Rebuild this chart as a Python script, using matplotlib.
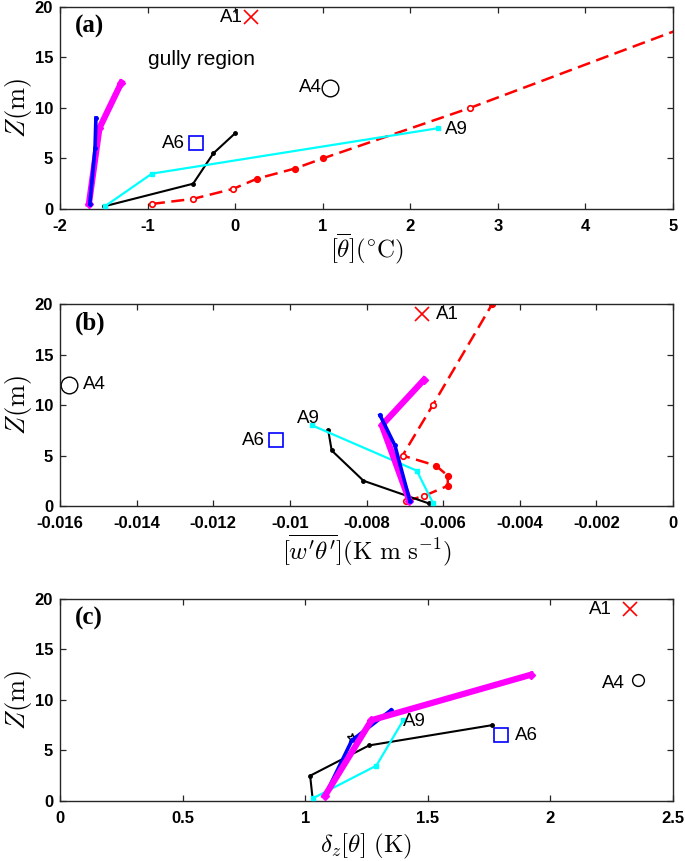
import matplotlib
matplotlib.use("Agg")
from matplotlib import pyplot as plt
import numpy as np

plt.rcParams["mathtext.fontset"] = "cm"
plt.rcParams["font.family"] = ["Liberation Sans", "DejaVu Sans"]

# heights (m) of each tower's levels
z_red = [0.5, 1, 2, 3, 4, 5, 10, 20]
z_black = [0.25, 2.5, 5.5, 7.5]
z_cyan = [0.25, 3.5, 8]
z_mag = [0.5, 8, 12.5]
z_blue = [0.5, 6, 9]

# (a) mean potential temperature
red_a = [-0.95, -0.48, -0.02, 0.25, 0.68, 1.0, 2.68, 5.75]
red_fill_a = [False, False, False, True, True, True, False, True]
black_a = [-1.5, -0.48, -0.25, 0.0]
cyan_a = [-1.49, -0.95, 2.32]
mag_a = [-1.67, -1.55, -1.30]
blue_a = [-1.66, -1.60, -1.59]

# (b) heat flux
red_b = [-0.00697, -0.00650, -0.00588, -0.00588, -0.00619, -0.00706, -0.00627, -0.00472]
red_fill_b = [False, False, True, True, True, False, False, True]
black_b = [-0.00637, -0.00808, -0.00891, -0.0090]
cyan_b = [-0.00626, -0.00669, -0.00943]
mag_b = [-0.00688, -0.00760, -0.00650]
blue_b = [-0.00687, -0.00726, -0.00765]

# (c) vertical temperature difference
black_c = [1.03, 1.02, 1.26, 1.76]
cyan_c = [1.03, 1.29, 1.40]
mag_c = [1.08, 1.27, 1.92]
blue_c = [1.08, 1.19, 1.35]
star_c = (1.19, 6.2)

# single-level sites: (x, z)
a1 = {"a": (0.18, 19), "b": (-0.00656, 19), "c": (2.325, 19)}
a4 = {"a": (1.08, 12), "b": (-0.01576, 12), "c": (2.355, 12)}
a6 = {"a": (-0.45, 6.5), "b": (-0.01037, 6.5), "c": (1.80, 6.5)}

xticks_a = [-2, -1, 0, 1, 2, 3, 4, 5]
xticks_b = [-0.016, -0.014, -0.012, -0.01, -0.008, -0.006, -0.004, -0.002, 0]
xlabels_b = ["-0.016", "-0.014", "-0.012", "-0.01", "-0.008", "-0.006", "-0.004", "-0.002", "0"]
xticks_c = [0, 0.5, 1, 1.5, 2, 2.5]
xlabels_c = ["0", "0.5", "1", "1.5", "2", "2.5"]
yticks = [0, 5, 10, 15, 20]

fig = plt.figure(figsize=(6.85, 8.61), dpi=100)
left, width, height = 0.0876, 0.895, 0.2346
ax_a = fig.add_axes([left, 0.7573, width, height])
ax_b = fig.add_axes([left, 0.4123, width, height])
ax_c = fig.add_axes([left, 0.0697, width, height])

afont = dict(fontsize=13.5, family=["Liberation Sans", "DejaVu Sans"])


def style(ax, xticks, xlabels, xlim, xlabel, label_y, tag):
    ax.set_xlim(*xlim)
    ax.set_ylim(0, 20)
    ax.set_xticks(xticks)
    ax.set_xticklabels(xlabels)
    ax.set_yticks(yticks)
    ax.tick_params(direction="in", top=True, right=True, length=4, width=0.9,
                   labelsize=12, color="#262626")
    ax.tick_params(axis="x", pad=7)
    ax.tick_params(axis="y", pad=5)
    for lab in ax.get_xticklabels() + ax.get_yticklabels():
        lab.set_fontweight("bold")
    for sp in ax.spines.values():
        sp.set_linewidth(1.0)
        sp.set_color("#262626")
    ax.set_ylabel(r"$Z(\mathrm{m})$", fontsize=19)
    ax.yaxis.set_label_coords(-0.042, 0.5)
    ax.set_xlabel(xlabel, fontsize=18, va="top")
    ax.xaxis.set_label_coords(0.5, label_y)
    ax.text(0.024, 0.905, tag, transform=ax.transAxes, fontsize=18,
            fontweight="bold", family="Liberation Serif", ha="left", va="center")


def red_profile(ax, x, fill):
    ax.plot(x, z_red, color="red", lw=1.8, dashes=(5.2, 2.6), zorder=2)
    for xi, zi, f in zip(x, z_red, fill):
        ax.plot(xi, zi, "o", ms=4, mec="red", mew=1.2,
                mfc="red" if f else "white", zorder=2.5)


def sites(ax, key, offs):
    x, z = a1[key]
    ax.plot(x, z, "x", color="red", ms=10, mew=1.2)
    ax.annotate("A1", (x, z), xytext=offs[0][:2], textcoords="offset points",
                ha=offs[0][2], va="center", **afont)
    x, z = a4[key]
    ax.plot(x, z, "o", mfc="none", mec="black", ms=offs[1][3], mew=1.0)
    ax.annotate("A4", (x, z), xytext=offs[1][:2], textcoords="offset points",
                ha=offs[1][2], va="center", **afont)
    x, z = a6[key]
    ax.plot(x, z, "s", mfc="none", mec="blue", ms=10, mew=1.2)
    ax.annotate("A6", (x, z), xytext=offs[2][:2], textcoords="offset points",
                ha=offs[2][2], va="center", **afont)


# ---- (a)
ax = ax_a
red_profile(ax, red_a, red_fill_a)
ax.plot(black_a, z_black, "-", color="black", lw=1.5, marker="o", ms=2.5, zorder=3)
ax.plot(cyan_a, z_cyan, "-", color="cyan", lw=1.6, marker="s", ms=3, zorder=3)
ax.plot(mag_a, z_mag, "-", color="magenta", lw=4.5, marker="D", ms=4, zorder=4)
ax.plot(blue_a, z_blue, "-", color="blue", lw=2.6, marker="o", ms=2.5, zorder=5)
sites(ax, "a", [(-6, 0, "right"), (-6, 0, "right", 12), (-7.5, 0, "right")])
ax.annotate("A9", (cyan_a[-1], z_cyan[-1]), xytext=(5, -1), textcoords="offset points",
            ha="left", va="center", **afont)
ax.text(-1.0, 14.8, "gully region", ha="left", va="center", fontsize=15)
style(ax, xticks_a, [str(t) for t in xticks_a], (-2, 5),
      r"$[\overline{\theta}](^{\circ}\mathrm{C})$", -0.115, "(a)")

# ---- (b)
ax = ax_b
red_profile(ax, red_b, red_fill_b)
ax.plot(black_b, z_black, "-", color="black", lw=1.5, marker="o", ms=2.5, zorder=3)
ax.plot(cyan_b, z_cyan, "-", color="cyan", lw=1.6, marker="s", ms=3, zorder=3)
ax.plot(mag_b, z_mag, "-", color="magenta", lw=4.5, marker="D", ms=4, zorder=4)
ax.plot(blue_b, z_blue, "-", color="blue", lw=2.6, marker="o", ms=2.5, zorder=5)
sites(ax, "b", [(10, 0, "left"), (10, 0, "left", 12), (-7.5, 0, "right")])
ax.annotate("A9", (cyan_b[-1], z_cyan[-1]), xytext=(5.5, 4.5), textcoords="offset points",
            ha="right", va="center", **afont)
style(ax, xticks_b, xlabels_b, (-0.016, 0),
      r"$[\overline{w'\theta'}](\mathrm{K\ m\ s^{-1}})$", -0.13, "(b)")

# ---- (c)
ax = ax_c
ax.plot(black_c, z_black, "-", color="black", lw=1.5, marker="o", ms=2.5, zorder=3)
ax.plot(cyan_c, z_cyan, "-", color="cyan", lw=1.6, marker="s", ms=3, zorder=3)
ax.plot(blue_c, z_blue, "-", color="blue", lw=2.6, marker="o", ms=2.5, zorder=4)
ax.plot(mag_c, z_mag, "-", color="magenta", lw=4.5, marker="D", ms=4, zorder=5)
ax.plot(*star_c, "*", color="black", ms=7, mfc="none", mew=1.0, zorder=3)
sites(ax, "c", [(-13, 0, "right"), (-9, -3, "right", 8.5), (10, 0, "left")])
ax.annotate("A9", (cyan_c[-1], z_cyan[-1]), xytext=(0, -1), textcoords="offset points",
            ha="left", va="center", **afont)
style(ax, xticks_c, xlabels_c, (0, 2.5),
      r"$\delta_z[\theta]\ (\mathrm{K})$", -0.155, "(c)")

fig.savefig("out.png", dpi=100)
